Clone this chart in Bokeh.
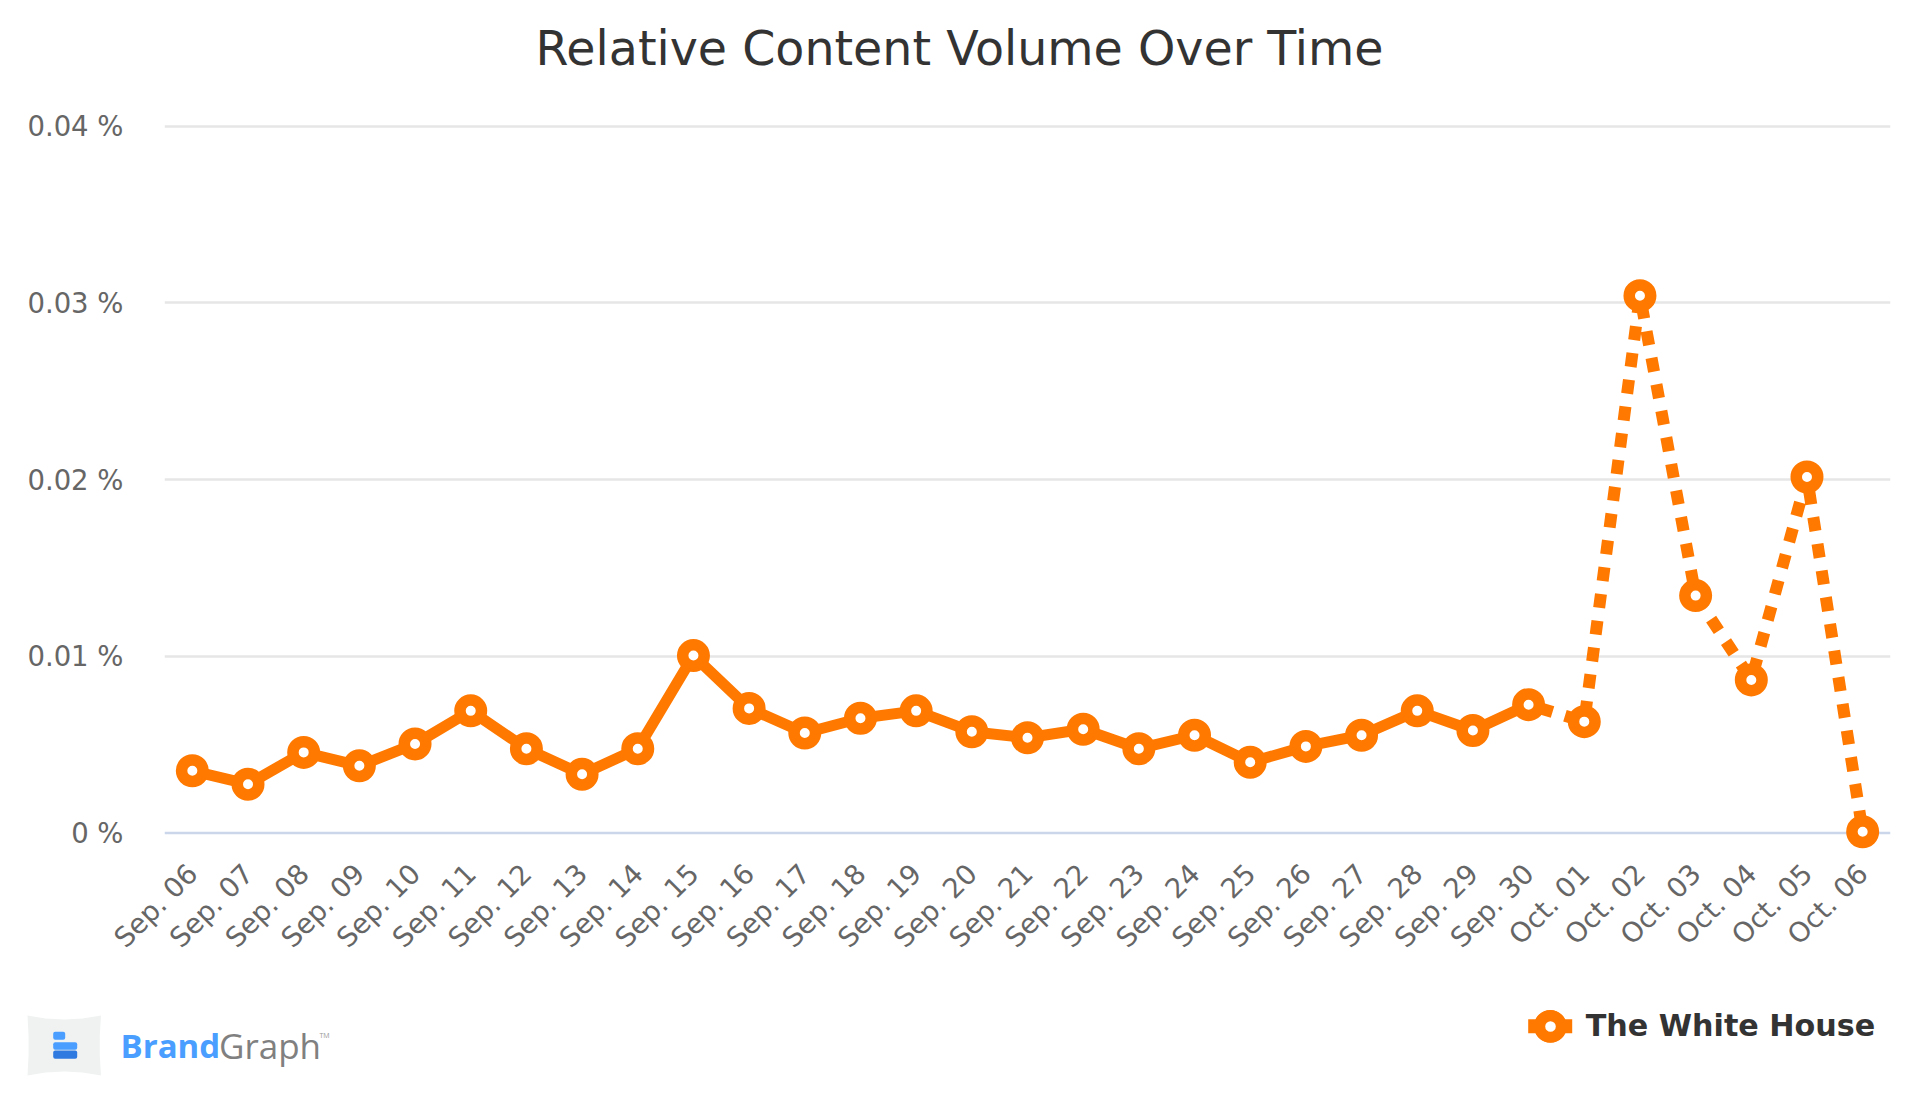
import math
from bokeh.plotting import figure
from bokeh.embed import file_html
from bokeh.resources import INLINE
from bokeh.core.properties import value
from bokeh.models import (ColumnDataSource, FactorRange, Range1d, FixedTicker, Span, Legend, LegendItem)

categories = ["Sep. 06","Sep. 07","Sep. 08","Sep. 09","Sep. 10","Sep. 11","Sep. 12","Sep. 13","Sep. 14",
              "Sep. 15","Sep. 16","Sep. 17","Sep. 18","Sep. 19","Sep. 20","Sep. 21","Sep. 22","Sep. 23",
              "Sep. 24","Sep. 25","Sep. 26","Sep. 27","Sep. 28","Sep. 29","Sep. 30","Oct. 01","Oct. 02",
              "Oct. 03","Oct. 04","Oct. 05","Oct. 06"]
volume = [0.00352,0.00276,0.00456,0.0038,0.00504,0.00691,0.00477,0.00332,0.00477,0.01004,0.00705,0.00566,
          0.00649,0.00691,0.00573,0.00539,0.00587,0.00477,0.00553,0.004,0.0049,0.00553,0.00691,0.0058,
          0.00726,0.0063,0.0304,0.01343,0.00866,0.02014,0.00007]
solid_count = 25
y_ticks = [0, 0.01, 0.02, 0.03, 0.04]
y_labels = ["0 %", "0.01 %", "0.02 %", "0.03 %", "0.04 %"]
title_text = "Relative Content Volume Over Time"
series_name = "The White House"

ORANGE = "#ff7900"
W, H, SPLIT = 1920, 1097, 990
FL, FT, FR, FB = 164, 75, 1890, 850   # frame edges in page pixels
PX = (832.5 - 125.5) / 0.04
p = figure(width=W, height=SPLIT, output_backend="svg", toolbar_location=None,
           x_range=FactorRange(factors=categories, range_padding=0, factor_padding=0),
           y_range=Range1d(-(FB - 832.5) / PX, 0.04 + (125.5 - FT) / PX),
           min_border_left=FL, min_border_right=W - FR, min_border_top=FT,
           min_border_bottom=SPLIT - FB, outline_line_color=None)

p.title.text = title_text
p.title.text_font = "DejaVu Sans"
p.title.text_font_style = "normal"
p.title.text_font_size = "47.5px"
p.title.text_color = "#333333"
p.title.align = "left"
p.title.offset = 535 - FL
p.title.standoff = 0

p.xgrid.visible = False
p.ygrid.ticker = FixedTicker(ticks=y_ticks[1:])
p.ygrid.grid_line_color = "#e6e6e6"
p.ygrid.grid_line_width = 2.4
p.add_layout(Span(location=0, dimension="width", line_color="#ccd6eb", line_width=2.4, level="underlay"))

p.yaxis.ticker = FixedTicker(ticks=y_ticks)
p.yaxis.major_label_overrides = dict(zip(y_ticks, y_labels))
p.yaxis.axis_line_color = None
p.yaxis.major_tick_line_color = None
p.yaxis.minor_tick_line_color = None
p.yaxis.major_label_text_font = "DejaVu Sans"
p.yaxis.major_label_text_font_size = "27.5px"
p.yaxis.major_label_text_color = "#666666"
p.yaxis.major_label_standoff = 35

p.xaxis.axis_line_color = None
p.xaxis.major_tick_line_color = None
p.xaxis.minor_tick_line_color = None
p.xaxis.major_label_orientation = math.pi / 4
p.xaxis.major_label_text_font = "DejaVu Sans"
p.xaxis.major_label_text_font_size = "27.5px"
p.xaxis.major_label_text_color = "#666666"
p.xaxis.major_label_standoff = 12

src_all = ColumnDataSource(dict(x=categories, y=volume))
src_solid = ColumnDataSource(dict(x=categories[:solid_count], y=volume[:solid_count]))
src_dash = ColumnDataSource(dict(x=categories[solid_count - 1:], y=volume[solid_count - 1:]))

p.line("x", "y", source=src_solid, line_color=ORANGE, line_width=11, line_join="round")
p.line("x", "y", source=src_dash, line_color=ORANGE, line_width=12,
       line_dash="14 13", line_dash_offset=16, line_join="bevel")
p.scatter("x", "y", source=src_all, marker="circle", size=21.5, fill_color="white",
          line_color=ORANGE, line_width=11.5)

# Footer strip: page pixels are its data units
f = figure(width=W, height=H - SPLIT, output_backend="svg", toolbar_location=None,
           x_range=Range1d(0, W), y_range=Range1d(H, SPLIT),
           x_axis_location=None, y_axis_location=None, outline_line_color=None,
           min_border=0, min_border_left=0, min_border_right=0, min_border_top=0, min_border_bottom=0)
f.grid.visible = False

# legend swatch
f.line([1527.7, 1571.7], [1025.7, 1025.7], line_color=ORANGE, line_width=14)
swatch = f.scatter([1549.7], [1025.7], marker="circle", size=21.5, fill_color="white",
                   line_color=ORANGE, line_width=11)
legend = Legend(items=[LegendItem(label=series_name, renderers=[swatch])],
                location=(1522.7, H - 1052.7), orientation="horizontal",
                border_line_color=None, background_fill_alpha=0, padding=0, margin=0,
                glyph_width=54, glyph_height=54, label_standoff=9,
                label_text_font="DejaVu Sans", label_text_font_style="bold",
                label_text_font_size="30.2px", label_text_color="#333333")
f.add_layout(legend, "center")

# BrandGraph logo
tile_x = [27, 45, 64, 82, 100.5, 99.3, 99.3, 100.5, 82, 64, 45, 27, 28, 28]
tile_y = [1015, 1018, 1019, 1018, 1015, 1035, 1055, 1075, 1072, 1071, 1072, 1075, 1055, 1035]
f.patch(tile_x, tile_y, fill_color="#f0f2f2", line_color=None)
f.quad(left=[52.7, 52.7, 52.7], right=[64.7, 76.7, 76.7], top=[1031.3, 1041.7, 1050],
       bottom=[1039.3, 1049.3, 1058.3], fill_color=["#4a9eff", "#4a9eff", "#2f7ae0"],
       line_color=None, border_radius=2)
f.text([120], [1045], text=["Brand"], text_font=value("Open Sans"), text_font_style="bold",
       text_font_size="33px", text_color="#4a9eff", text_baseline="alphabetic")
f.text([218.5], [1045], text=["Graph"], text_font=value("Open Sans"), text_font_size="35px",
       text_color="#808080", text_baseline="alphabetic")
f.text([319], [1035], text=["TM"], text_font=value("Open Sans"), text_font_size="7px",
       text_color="#999999", text_baseline="alphabetic")

open("out.html", "w").write(file_html([p, f], INLINE))
